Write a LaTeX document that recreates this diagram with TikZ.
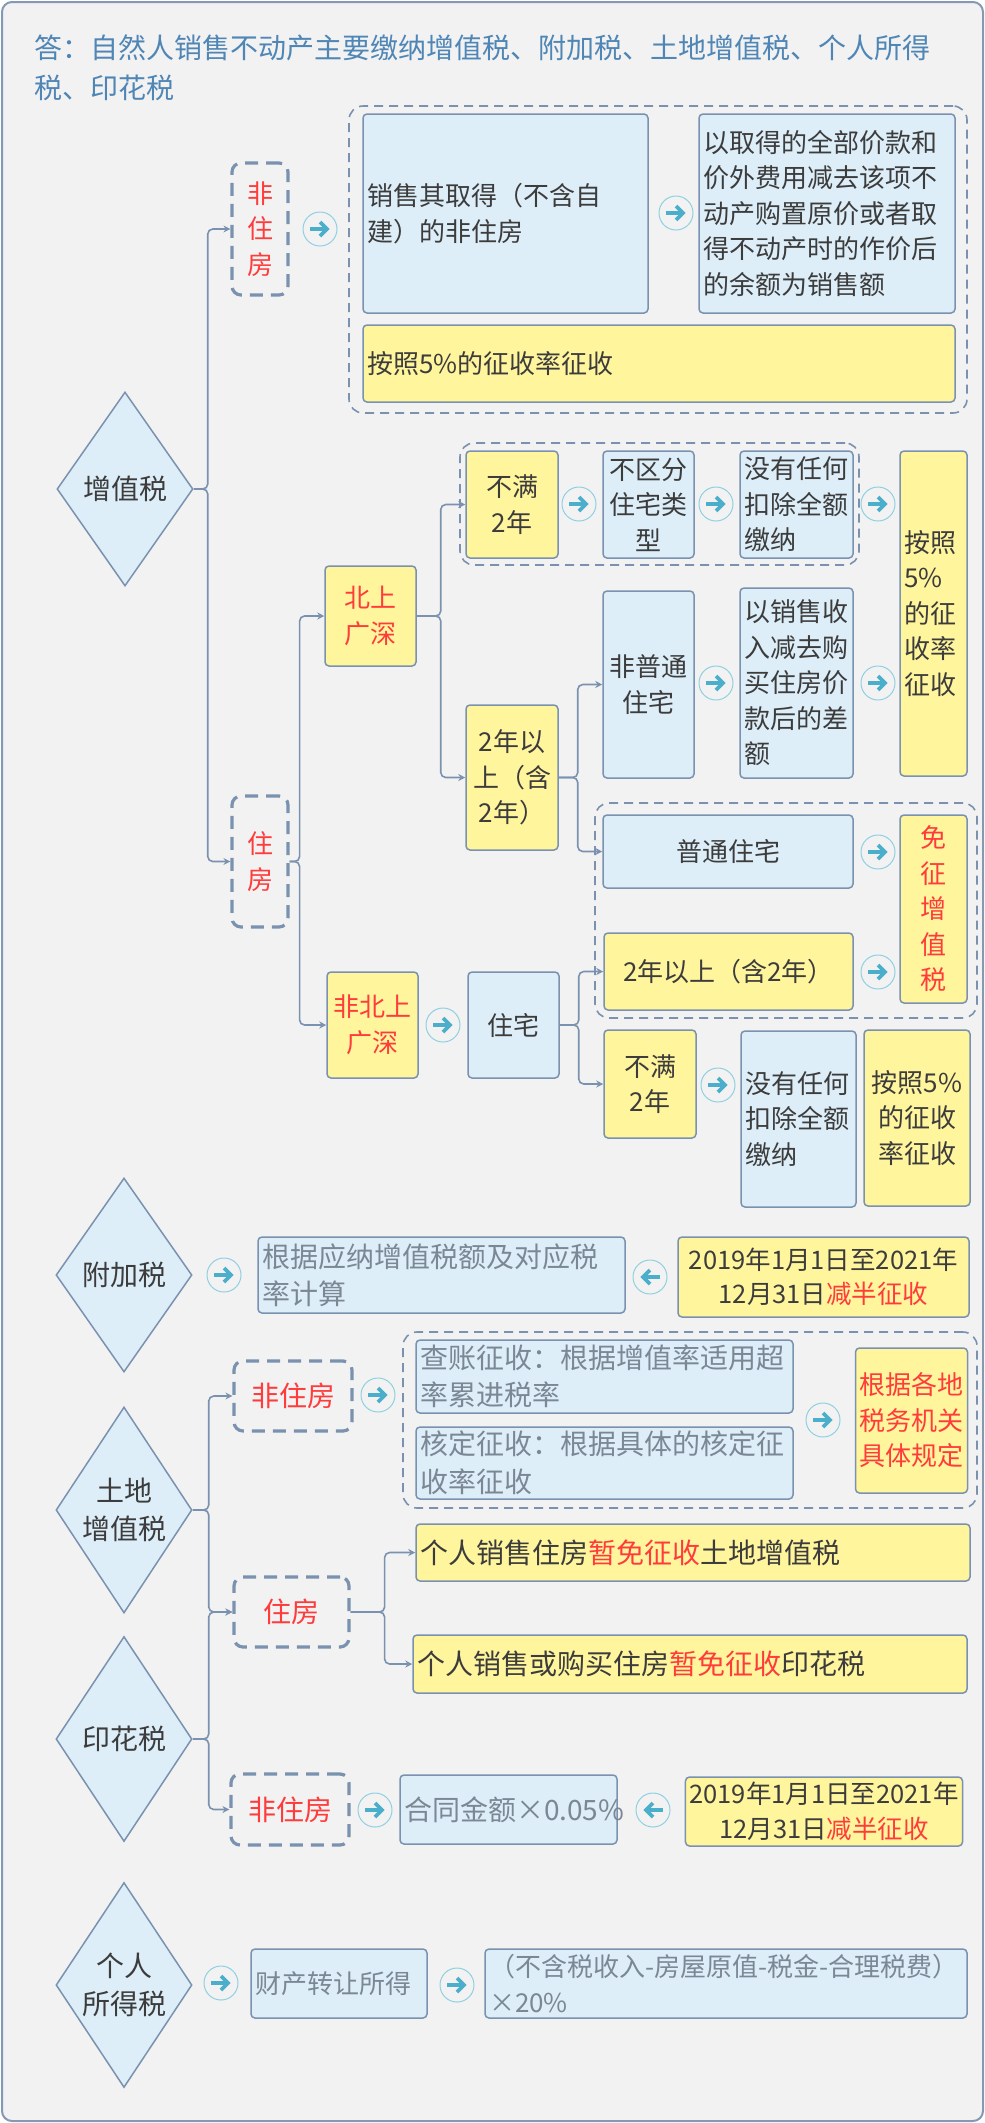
\documentclass[tikz,border=0pt]{standalone}
\usepackage{fontspec}
\setmainfont{Noto Sans CJK SC}
\usetikzlibrary{arrows.meta,shapes.geometric}
\usepackage{xcolor}
\definecolor{paper}{HTML}{F2F2F2}
\definecolor{frame}{HTML}{8499B3}
\definecolor{edge}{HTML}{7A92AF}
\definecolor{skyfill}{HTML}{DDEEF8}
\definecolor{lemon}{HTML}{FFF59D}
\definecolor{hot}{HTML}{FF3B3B}
\definecolor{ink}{HTML}{3C3C3C}
\definecolor{muted}{HTML}{7B8795}
\definecolor{headblue}{HTML}{4F86B5}
\definecolor{ringblue}{HTML}{8FD0E2}
\definecolor{tipblue}{HTML}{4BAECB}

\newcommand{\txtA}{\fontsize{26}{35.5}\selectfont}
\newcommand{\txtB}{\fontsize{28}{37.5}\selectfont}
\newcommand{\txtC}{\fontsize{25.5}{34.5}\selectfont}
\newcommand{\redtxt}[1]{\textcolor{hot}{#1}}

\tikzset{
  cell/.style={rectangle, rounded corners=4pt, draw=edge, line width=1.5pt, inner sep=4pt, text=ink},
  bluebox/.style={cell, fill=skyfill},
  yelbox/.style={cell, fill=lemon},
  tax/.style={diamond, shape aspect=0.66, draw=edge, line width=1.5pt, fill=skyfill, inner sep=0pt,
    minimum width=136pt, text=ink, font=\txtB, align=center},
  kind/.style={draw=edge, line width=3.2pt, dash pattern=on 13pt off 8pt, rounded corners=9pt,
    text=hot, align=center, inner sep=0pt},
  grp/.style={draw=edge, line width=1.6pt, dash pattern=on 9pt off 6pt, rounded corners=14pt},
  wire/.style={draw=edge, line width=1.6pt, rounded corners=5pt, -{Stealth[length=7pt,width=7pt]}},
  nextmark/.style={circle, draw=ringblue, line width=1pt, fill=paper, minimum size=34pt, inner sep=0pt,
    path picture={
      \draw[tipblue, line width=3.8pt] ([xshift=-10pt]path picture bounding box.center) -- ([xshift=6pt]path picture bounding box.center);
      \draw[tipblue, line width=3.8pt] ([yshift=7pt]path picture bounding box.center) -- ([xshift=7pt]path picture bounding box.center) -- ([yshift=-7pt]path picture bounding box.center);
    }},
  backmark/.style={circle, draw=ringblue, line width=1pt, fill=paper, minimum size=34pt, inner sep=0pt,
    path picture={
      \draw[tipblue, line width=3.8pt] ([xshift=10pt]path picture bounding box.center) -- ([xshift=-6pt]path picture bounding box.center);
      \draw[tipblue, line width=3.8pt] ([yshift=7pt]path picture bounding box.center) -- ([xshift=-7pt]path picture bounding box.center) -- ([yshift=-7pt]path picture bounding box.center);
    }},
}

\begin{document}
\begin{tikzpicture}[x=1pt, y=-1pt]
  \useasboundingbox (0,0) rectangle (985,2123);
  % Frame
  \draw[draw=frame, fill=paper, line width=2pt, rounded corners=10pt] (2,2) rectangle (983,2121);
  \node[anchor=west, align=left, text=headblue, font=\fontsize{28}{40}\selectfont, inner sep=0pt] (head) at (34,68)
    {答：自然人销售不动产主要缴纳增值税、附加税、土地增值税、个人所得\\税、印花税};

  % Groups
  \node[grp, minimum width=618pt, minimum height=307pt] (g1) at (658,259.5) {};
  \node[grp, minimum width=399pt, minimum height=122pt] (g2) at (659.5,504) {};
  \node[grp, minimum width=382pt, minimum height=215pt] (g3) at (786,910.5) {};
  \node[grp, minimum width=574pt, minimum height=176pt] (g4) at (690,1420) {};

  % VAT, non-residential
  \node[tax, minimum height=194pt] (vat) at (125,489) {增值税};
  \node[kind, font=\txtA, minimum width=56pt, minimum height=132pt] (vnres) at (260,229) {非\\住\\房};
  \node[nextmark] (m1) at (320,229) {};
  \node[bluebox, font=\txtA, minimum width=285pt, minimum height=199pt, text width=277pt, align=left] (vsell) at (505.5,213.5)
    {销售其取得（不含自\\建）的非住房};
  \node[nextmark] (m2) at (676,213) {};
  \node[bluebox, font=\txtA, minimum width=256pt, minimum height=199pt, text width=248pt, align=left] (vprice) at (827,213.5)
    {以取得的全部价款和\\价外费用减去该项不\\动产购置原价或者取\\得不动产时的作价后\\的余额为销售额};
  \node[yelbox, font=\txtA, minimum width=592pt, minimum height=77pt, text width=584pt, align=left] (vrate1) at (659,363.5)
    {按照5\%的征收率征收};

  % VAT, residential
  \node[kind, font=\txtA, minimum width=56pt, minimum height=131pt] (vres) at (260,861.5) {住\\房};
  \node[yelbox, font=\txtA, text=hot, minimum width=91pt, minimum height=100pt, align=center] (vbig) at (370.5,616) {北上\\广深};
  \node[yelbox, font=\txtA, text=hot, minimum width=91pt, minimum height=106pt, align=center] (vsmall) at (372.5,1025) {非北上\\广深};

  \node[yelbox, font=\txtA, minimum width=92pt, minimum height=107pt, align=center] (vlt1) at (512,504.5) {不满\\2年};
  \node[nextmark] (m3) at (579,504) {};
  \node[bluebox, font=\txtA, minimum width=91pt, minimum height=107pt, align=center] (vany) at (648.5,504.5) {不区分\\住宅类\\型};
  \node[nextmark] (m4) at (716,504) {};
  \node[bluebox, font=\txtA, minimum width=113pt, minimum height=107pt, text width=105pt, align=left] (vfull1) at (796.5,504.5)
    {没有任何\\扣除全额\\缴纳};
  \node[nextmark] (m5) at (878,504) {};
  \node[yelbox, font=\txtA, minimum width=67pt, minimum height=325pt, text width=59pt, align=left] (vrate2) at (933.5,613.5)
    {按照\\5\%\\的征\\收率\\征收};

  \node[yelbox, font=\txtA, minimum width=92pt, minimum height=145pt, align=center] (vge1) at (512,777.5) {2年以\\上（含\\2年）};
  \node[bluebox, font=\txtA, minimum width=91pt, minimum height=187pt, align=center] (vlux) at (648.5,684.5) {非普通\\住宅};
  \node[nextmark] (m6) at (716,683) {};
  \node[bluebox, font=\txtA, minimum width=113pt, minimum height=190pt, text width=105pt, align=left] (vdiff) at (796.5,683)
    {以销售收\\入减去购\\买住房价\\款后的差\\额};
  \node[nextmark] (m7) at (878,683) {};

  \node[bluebox, font=\txtA, minimum width=250pt, minimum height=73pt] (vord) at (728,851.5) {普通住宅};
  \node[nextmark] (m8) at (878,852) {};
  \node[yelbox, font=\txtA, text=hot, minimum width=67pt, minimum height=188pt, align=center] (vfree) at (933.5,909) {免\\征\\增\\值\\税};
  \node[yelbox, font=\txtA, minimum width=249pt, minimum height=77pt] (vge2) at (728.5,971.5) {2年以上（含2年）};
  \node[nextmark] (m9) at (878,972) {};

  \node[nextmark] (m10) at (443,1025) {};
  \node[bluebox, font=\txtA, minimum width=91pt, minimum height=106pt] (vhome) at (513.5,1025) {住宅};
  \node[yelbox, font=\txtA, minimum width=92pt, minimum height=108pt, align=center] (vlt2) at (650,1084) {不满\\2年};
  \node[nextmark] (m11) at (718,1085) {};
  \node[bluebox, font=\txtA, minimum width=115pt, minimum height=176pt, text width=107pt, align=left] (vfull2) at (798.5,1119)
    {没有任何\\扣除全额\\缴纳};
  \node[yelbox, font=\txtA, minimum width=106pt, minimum height=176pt, align=center] (vrate3) at (917,1118) {按照5\%\\的征收\\率征收};

  % VAT links
  \draw[wire] (vat.east) -- ++(14,0) |- (vnres.west);
  \draw[wire] (vat.east) -- ++(14,0) |- (vres.west);
  \draw[wire] (vres.east) -- ++(10,0) |- (vbig.west);
  \draw[wire] (vres.east) -- ++(10,0) |- (vsmall.west);
  \draw[wire] (vbig.east) -- ++(24,0) |- (vlt1.west);
  \draw[wire] (vbig.east) -- ++(24,0) |- (vge1.west);
  \draw[wire] (vge1.east) -- ++(19,0) |- (vlux.west);
  \draw[wire] (vge1.east) -- ++(19,0) |- (vord.west);
  \draw[wire] (vhome.east) -- ++(19,0) |- (vge2.west);
  \draw[wire] (vhome.east) -- ++(19,0) |- (vlt2.west);

  % Surcharge
  \node[tax, minimum height=194pt] (sur) at (124,1275) {附加税};
  \node[nextmark] (m12) at (224,1275) {};
  \node[bluebox, font=\txtB, text=muted, minimum width=367pt, minimum height=76pt, text width=359pt, align=left] (surcalc) at (441.5,1275)
    {根据应纳增值税额及对应税\\率计算};
  \node[backmark] (m13) at (650,1277) {};
  \node[yelbox, font=\txtC, minimum width=291pt, minimum height=80pt, align=center] (surhalf) at (823.5,1277)
    {2019年1月1日至2021年\\12月31日\redtxt{减半征收}};

  % Land VAT
  \node[tax, minimum height=206pt] (land) at (124,1510) {土地\\增值税};
  \node[kind, font=\txtB, minimum width=118pt, minimum height=70pt] (lnres) at (293,1396) {非住房};
  \node[nextmark] (m14) at (378,1395) {};
  \node[bluebox, font=\txtB, text=muted, minimum width=377pt, minimum height=73pt, text width=369pt, align=left] (laudit) at (604.5,1376.5)
    {查账征收：根据增值率适用超\\率累进税率};
  \node[bluebox, font=\txtB, text=muted, minimum width=377pt, minimum height=72pt, text width=369pt, align=left] (ldeem) at (604.5,1463)
    {核定征收：根据具体的核定征\\收率征收};
  \node[nextmark] (m15) at (823,1420) {};
  \node[yelbox, font=\txtA, text=hot, minimum width=111pt, minimum height=145pt, align=center] (llocal) at (911.5,1420.5)
    {根据各地\\税务机关\\具体规定};
  \node[kind, font=\txtB, minimum width=115pt, minimum height=70pt] (lres) at (291.5,1612) {住房};
  \node[yelbox, font=\txtB, minimum width=554pt, minimum height=57pt, text width=546pt, align=left] (lfree) at (693,1552.5)
    {个人销售住房\redtxt{暂免征收}土地增值税};
  \node[yelbox, font=\txtB, minimum width=554pt, minimum height=58pt, text width=546pt, align=left] (sfree) at (690,1664)
    {个人销售或购买住房\redtxt{暂免征收}印花税};

  % Stamp duty
  \node[tax, minimum height=205pt] (stamp) at (124,1739) {印花税};
  \node[kind, font=\txtB, minimum width=118pt, minimum height=71pt] (snres) at (290,1809.5) {非住房};
  \node[nextmark] (m16) at (375,1810) {};
  \node[bluebox, font=\txtB, text=muted, minimum width=217pt, minimum height=69pt, text width=209pt, align=left] (scontract) at (508.5,1809.5)
    {合同金额×0.05\%};
  \node[backmark] (m17) at (653,1810) {};
  \node[yelbox, font=\txtC, minimum width=274pt, minimum height=69pt, align=center] (shalf) at (824,1811.5)
    {2019年1月1日至2021年\\12月31日\redtxt{减半征收}};

  % Land / stamp links
  \draw[wire] (land.east) -- ++(16,0) |- (lnres.west);
  \draw[wire] (land.east) -- ++(16,0) |- (lres.west);
  \draw[wire] (stamp.east) -- ++(16,0) |- (lres.west);
  \draw[wire] (stamp.east) -- ++(16,0) |- (snres.west);
  \draw[wire] (lres.east) -- ++(34,0) |- (lfree.west);
  \draw[wire] (lres.east) -- ++(34,0) |- (sfree.west);

  % Personal income tax
  \node[tax, minimum height=205pt] (pit) at (124,1985) {个人\\所得税};
  \node[nextmark] (m18) at (221,1983) {};
  \node[bluebox, font=\txtA, text=muted, minimum width=176pt, minimum height=69pt, text width=168pt, align=left] (ptransfer) at (339,1983.5)
    {财产转让所得};
  \node[nextmark] (m19) at (457,1985) {};
  \node[bluebox, font=\txtA, text=muted, minimum width=482pt, minimum height=69pt, text width=474pt, align=left] (pformula) at (726,1983.5)
    {（不含税收入-房屋原值-税金-合理税费）\\×20\%};
\end{tikzpicture}
\end{document}
